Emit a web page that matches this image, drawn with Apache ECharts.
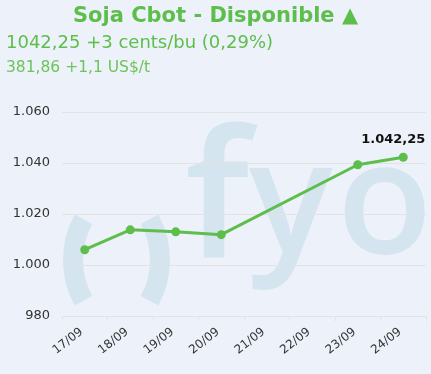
<!DOCTYPE html>
<html><head><meta charset="utf-8">
<script src="https://cdn.jsdelivr.net/npm/echarts@6/dist/echarts.min.js"></script>
<style>html,body{margin:0;padding:0;background:#edf1f9}#c{width:431px;height:374px}</style>
</head><body><div id="c"></div>
<script>
var categories = ['17/09','18/09','19/09','20/09','21/09','22/09','23/09','24/09'];
var prices = [1006, 1013.8, 1013, 1011.9, null, null, 1039.3, 1042.25];
var yTicks = {min: 980, max: 1060, interval: 20};
var titleText = 'Soja Cbot - Disponible \u25B2';
var line1 = '1042,25 +3 cents/bu (0,29%)';
var line2 = '381,86 +1,1 US$/t';
var lastLabel = '1.042,25';

var green = '#5dbe4b';
var wm = '#d5e5f0';
var font = '"DejaVu Sans", Verdana, sans-serif';

function fmt(v){ var s = String(v); if (v >= 1000) s = s.slice(0, s.length-3) + '.' + s.slice(-3); return s; }

var chart = echarts.init(document.getElementById('c'), null, {renderer:'canvas'});
chart.setOption({
  backgroundColor: '#edf1f9',
  animation: false,
  title: [
    {text: titleText, left: 'center', top: 6, padding: 0, textStyle: {fontFamily: font, fontSize: 21, fontWeight: 'bold', color: green}},
    {text: line1, left: 6, top: 34, padding: 0, textStyle: {fontFamily: font, fontSize: 18, fontWeight: 'normal', color: green}},
    {text: line2, left: 6, top: 60, padding: 0, textStyle: {fontFamily: font, fontSize: 15.5, fontWeight: 'normal', color: '#6cc45a'}}
  ],
  graphic: [
    {type:'arc', silent:true, z:-1, shape:{cx:158, cy:260, r:85, startAngle:Math.PI-0.5, endAngle:Math.PI+0.5}, style:{stroke:wm, fill:null, lineWidth:20}},
    {type:'arc', silent:true, z:-1, shape:{cx:75, cy:260, r:85, startAngle:-0.5, endAngle:0.5}, style:{stroke:wm, fill:null, lineWidth:20}},
    {type:'text', silent:true, z:-1, style:{text:'f', x:185, y:118, font:'600 178px "Open Sans"', fill:wm}},
    {type:'text', silent:true, z:-1, style:{text:'y', x:249, y:131, font:'600 156px "Open Sans"', fill:wm}},
    {type:'text', silent:true, z:-1, style:{text:'o', x:337, y:131, font:'600 156px "Open Sans"', fill:wm}}
  ],
  grid: {left: 62, right: 5, top: 112, bottom: 58, containLabel: false},
  xAxis: {
    type: 'category', data: categories, boundaryGap: true,
    axisLine: {lineStyle: {color: '#e3e3e3'}},
    axisTick: {show: true, length: 5, lineStyle: {color: '#e3e3e3'}},
    axisLabel: {rotate: 38, color: '#333', fontFamily: font, fontSize: 12, margin: 12, padding: [0, 4, 0, 0], interval: 0}
  },
  yAxis: {
    type: 'value', min: yTicks.min, max: yTicks.max, interval: yTicks.interval,
    axisLine: {show: false}, axisTick: {show: false},
    splitLine: {lineStyle: {color: '#e3e3e3'}},
    axisLabel: {color: '#333', fontFamily: font, fontSize: 13, margin: 12, formatter: fmt}
  },
  series: [{
    type: 'line', data: prices.map(function(v, i){
      if (i === prices.length - 1) return {value: v, label: {show: true, position: 'top', offset: [-10, -2], formatter: lastLabel, fontFamily: font, fontSize: 13, fontWeight: 'bold', color: '#111'}};
      return v;
    }),
    connectNulls: true, symbol: 'circle', symbolSize: 9, showSymbol: true,
    lineStyle: {color: green, width: 3}, itemStyle: {color: green}
  }]
});
</script></body></html>
